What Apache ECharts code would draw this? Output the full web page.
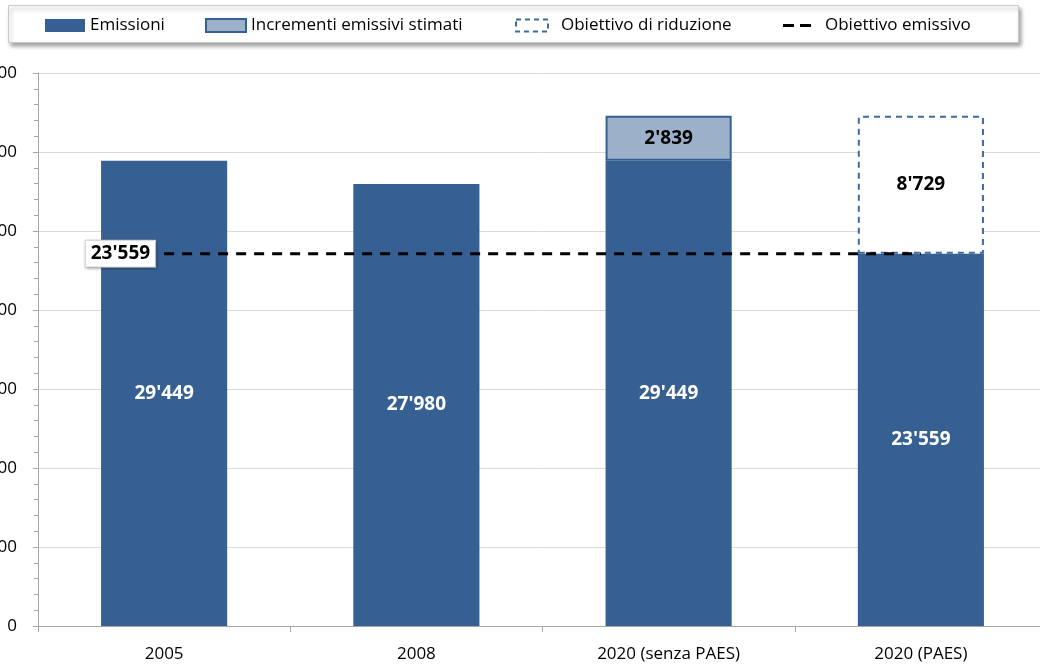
<!DOCTYPE html>
<html><head><meta charset="utf-8">
<script src="https://cdn.jsdelivr.net/npm/echarts@6/dist/echarts.min.js"></script>
<style>html,body{margin:0;padding:0;background:#fff}#c{width:1040px;height:664px}</style>
</head><body><div id="c"></div>
<script>
const categories = ['2005', '2008', '2020 (senza PAES)', '2020 (PAES)'];
const emissioni = [29449, 27980, 29449, 23559];
const incrementi = [null, null, 2839, null];
const riduzione = [null, null, null, 8729];
const obiettivo = [23559, 23559, 23559, 23559];
const yTicks = {min: 0, max: 35000, interval: 5000};

const FONT = "'Open Sans', sans-serif";
const fmt = v => { const s = String(Math.round(v)); return s.replace(/\B(?=(\d{3})+(?!\d))/g, "'"); };
const DARK = '#376092';

const chart = echarts.init(document.getElementById('c'), null, {renderer: 'canvas'});
const legendBase = {
  top: 17, padding: 0, itemGap: 0, selectedMode: false,
  textStyle: {fontFamily: FONT, fontSize: 17, color: '#000'}
};
const boldLabel = {fontWeight: 'bold', fontFamily: FONT, fontSize: 19};
chart.setOption({
  animation: false,
  graphic: [{
    type: 'rect', left: 8, top: 5, z: -1,
    shape: {width: 1010, height: 37},
    style: {fill: '#fff', stroke: '#C8C8C8', lineWidth: 1, shadowBlur: 4, shadowOffsetX: 2, shadowOffsetY: 3, shadowColor: 'rgba(0,0,0,0.35)'}
  }],
  legend: [
    Object.assign({}, legendBase, {left: 45, data: [{name: 'Emissioni', icon: 'rect'}], itemWidth: 40, itemHeight: 13}),
    Object.assign({}, legendBase, {left: 205, data: [{name: 'Incrementi emissivi stimati', icon: 'rect'}], itemWidth: 40, itemHeight: 13}),
    Object.assign({}, legendBase, {left: 515, data: [{name: 'Obiettivo di riduzione', icon: 'rect'}], itemWidth: 32, itemHeight: 12,
      itemStyle: {borderType: [5, 4], borderWidth: 2, borderColor: '#3E6A9F', color: '#fff'},
      textStyle: Object.assign({}, legendBase.textStyle, {padding: [0, 0, 0, 8]})}),
    Object.assign({}, legendBase, {left: 783, data: [{name: 'Obiettivo emissivo', icon: 'path://M0,0h11v3h-11z M17,0h11v3h-11z'}], itemWidth: 28, itemHeight: 3,
      itemStyle: {color: '#000'},
      textStyle: Object.assign({}, legendBase.textStyle, {padding: [0, 0, 0, 9]})})
  ],
  grid: {left: 38, right: -7, top: 73, bottom: 38, containLabel: false, outerBoundsMode: 'none'},
  xAxis: {
    type: 'category', data: categories,
    axisLine: {lineStyle: {color: '#A6A6A6'}},
    axisTick: {show: true, length: 6, lineStyle: {color: '#A6A6A6'}},
    axisLabel: {fontFamily: FONT, fontSize: 17, color: '#000', margin: 20}
  },
  yAxis: {
    type: 'value', min: yTicks.min, max: yTicks.max, interval: yTicks.interval,
    axisLine: {show: true, lineStyle: {color: '#A6A6A6'}},
    axisTick: {show: true, length: 5, lineStyle: {color: '#A6A6A6'}},
    minorTick: {show: true, splitNumber: 5, length: 4, lineStyle: {color: '#A6A6A6'}},
    splitLine: {lineStyle: {color: '#D9D9D9'}},
    axisLabel: {fontFamily: FONT, fontSize: 17, color: '#000', margin: 21, formatter: fmt}
  },
  series: [
    {
      name: 'Emissioni', type: 'bar', stack: 'tot', data: emissioni, barWidth: '50%',
      itemStyle: {color: DARK},
      label: Object.assign({show: true, position: 'inside', color: '#fff', formatter: p => fmt(p.value)}, boldLabel)
    },
    {
      name: 'Incrementi emissivi stimati', type: 'bar', stack: 'tot', data: incrementi,
      itemStyle: {color: '#9CB0CA', borderColor: DARK, borderWidth: 2},
      label: Object.assign({show: true, position: 'inside', color: '#000', formatter: p => fmt(p.value)}, boldLabel)
    },
    {
      name: 'Obiettivo di riduzione', type: 'bar', stack: 'tot', data: riduzione,
      itemStyle: {color: '#fff', borderColor: '#3E6A9F', borderWidth: 2, borderType: [6, 5]},
      label: Object.assign({show: true, position: 'inside', color: '#000', formatter: p => fmt(p.value)}, boldLabel)
    },
    {
      name: 'Obiettivo emissivo', type: 'line', z: 5,
      data: obiettivo,
      symbol: 'none', showSymbol: false,
      lineStyle: {color: '#000', width: 3, type: [10, 8]},
      itemStyle: {color: '#000'},
      markPoint: {
        symbol: 'circle', symbolSize: 0.01, z: 6,
        data: [{coord: [0, obiettivo[0]], value: obiettivo[0]}],
        label: Object.assign({
          show: true, position: 'left', distance: 9, color: '#000',
          backgroundColor: '#fff', padding: [4, 5, 3, 5], borderColor: '#D0D0D0', borderWidth: 1,
          shadowBlur: 3, shadowColor: 'rgba(0,0,0,0.3)', shadowOffsetX: 1, shadowOffsetY: 1,
          formatter: p => fmt(p.value)
        }, boldLabel)
      }
    }
  ]
});
</script></body></html>
